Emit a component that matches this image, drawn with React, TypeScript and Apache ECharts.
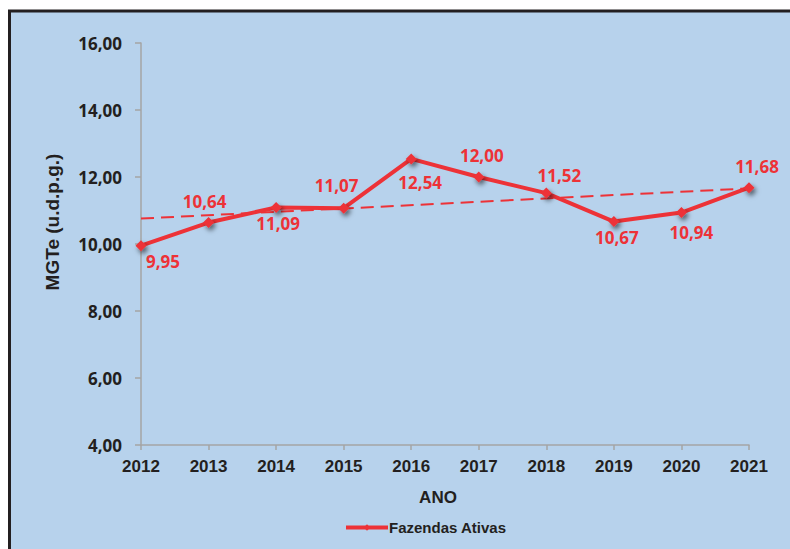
import React, { useEffect, useRef } from "react";
import * as echarts from "echarts";

const years = ["2012", "2013", "2014", "2015", "2016", "2017", "2018", "2019", "2020", "2021"];
const mgte = [9.95, 10.64, 11.09, 11.07, 12.54, 12.0, 11.52, 10.67, 10.94, 11.68];
const trendEnds = [10.76, 11.66];
const yTitle = "MGTe (u.d.p.g.)";
const xTitle = "ANO";
const seriesName = "Fazendas Ativas";
const labelSide = ["bottom", "top", "bottom", "top", "bottom", "top", "top", "bottom", "bottom", "top"];
const labelShiftX = [22, -4, 2, -7, 9, 3, 13, 3, 10, 8];
const labelShiftY = [-4, -1, -4, -3, 4, -2, 2, -4, 0, -1];

const fmt = (v: number) => v.toFixed(2).replace(".", ",");

export default function App() {
  const ref = useRef<HTMLDivElement>(null);
  useEffect(() => {
    const chart = echarts.init(ref.current!, null, { renderer: "svg" });
    const red = "#ED3237";
    const dark = "#231F20";
    const arial = "Liberation Sans, Arial, sans-serif";
    const trendData = years.map((_, i) =>
      i === 0 ? trendEnds[0] : i === years.length - 1 ? trendEnds[1] : null
    );
    chart.setOption({
      animation: false,
      graphic: [
        {
          type: "rect",
          shape: { x: 9.5, y: 11, width: 820, height: 600 },
          style: { fill: "#B7D2EC", stroke: dark, lineWidth: 3 },
          z: -10,
        },
        {
          type: "text",
          x: 52,
          y: 222,
          rotation: Math.PI / 2,
          style: {
            text: yTitle,
            align: "center",
            verticalAlign: "middle",
            fontFamily: arial,
            fontWeight: "bold",
            fontSize: 19,
            fill: dark,
          },
        },
      ],
      grid: { left: 141, right: 41, top: 43, bottom: 104 },
      legend: {
        data: [seriesName],
        left: 344,
        top: 520,
        padding: 0,
        itemWidth: 42,
        itemHeight: 8,
        itemGap: 4,
        lineStyle: { width: 4 },
        textStyle: {
          fontFamily: arial,
          fontWeight: "bold",
          fontSize: 15,
          color: dark,
          padding: [0, 0, 0, -4],
        },
      },
      xAxis: {
        type: "category",
        data: years,
        boundaryGap: false,
        name: xTitle,
        nameLocation: "middle",
        nameGap: 44,
        nameTextStyle: {
          fontFamily: arial,
          fontWeight: "bold",
          fontSize: 17,
          color: dark,
          padding: [0, 14, 0, 0],
        },
        axisLine: { lineStyle: { color: "#A5A5A5", width: 1.5 } },
        axisTick: { show: true, length: 5, lineStyle: { color: "#A5A5A5", width: 1.5 } },
        axisLabel: {
          margin: 13,
          fontFamily: arial,
          fontWeight: "bold",
          fontSize: 17,
          color: dark,
        },
      },
      yAxis: {
        type: "value",
        min: 4,
        max: 16,
        interval: 2,
        axisLine: { show: true, lineStyle: { color: "#A5A5A5", width: 1.5 } },
        axisTick: { show: true, length: 6, lineStyle: { color: "#A5A5A5", width: 1.5 } },
        splitLine: { show: false },
        axisLabel: {
          margin: 19,
          formatter: (v: number) => fmt(v),
          fontFamily: "Noto Sans, sans-serif",
          fontWeight: "bold",
          fontSize: 17,
          color: dark,
        },
      },
      series: [
        {
          name: "Tendência",
          type: "line",
          data: trendData,
          connectNulls: true,
          symbol: "none",
          lineStyle: { color: red, width: 2, type: [13, 7] },
          z: 1,
          silent: true,
        },
        {
          name: seriesName,
          type: "line",
          data: mgte.map((v, i) => ({
            value: v,
            label: {
              position: labelSide[i],
              offset: [labelShiftX[i], labelShiftY[i]],
            },
          })),
          symbol: "diamond",
          symbolSize: 11,
          itemStyle: {
            color: red,
            shadowColor: "rgba(0,0,0,0.6)",
            shadowBlur: 5,
            shadowOffsetX: 2,
            shadowOffsetY: 3,
          },
          lineStyle: { color: red, width: 4 },
          label: {
            show: true,
            distance: 6,
            formatter: (p: any) => fmt(p.value),
            fontFamily: "Noto Sans, sans-serif",
            fontWeight: "bold",
            fontSize: 17,
            color: red,
          },
          z: 2,
        },
      ],
    });
    return () => chart.dispose();
  }, []);
  return (
    <div
      ref={ref}
      style={{ position: "fixed", left: 0, top: 0, width: 790, height: 549, background: "#fff" }}
    />
  );
}
